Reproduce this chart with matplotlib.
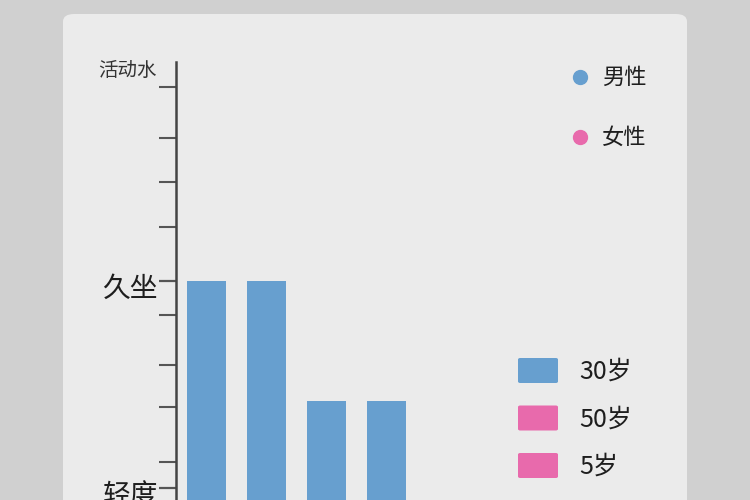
import matplotlib
matplotlib.use("Agg")
import matplotlib.pyplot as plt
from matplotlib.patches import FancyBboxPatch
from matplotlib.lines import Line2D
from matplotlib.transforms import offset_copy

plt.rcParams['font.family'] = ['Noto Sans CJK SC', 'DejaVu Sans']

# ---- data ----
categories = ["组1", "组2", "组3", "组4"]
activity_values = [2.0, 2.0, 1.42, 1.42]
ytick_values = [1.0, 2.0]
ytick_labels = ["轻度", "久坐"]
gender_labels = ["男性", "女性"]
age_labels = ["30岁", "50岁", "5岁"]
title_text = "活动水"

BLUE = "#679fcf"
PINK = "#e86aac"
gender_colors = [BLUE, PINK]
age_colors = [BLUE, PINK, PINK]

W, H = 750, 500
fig = plt.figure(figsize=(7.5, 5), dpi=100, facecolor="#d0d0d0")

# card background
card = FancyBboxPatch((63 / W, -0.1), (687 - 63) / W, (500 - 14) / H + 0.1,
                      boxstyle="round,pad=0,rounding_size=0.015",
                      transform=fig.transFigure, facecolor="#ebebeb",
                      edgecolor="none", zorder=-5)
fig.patches.append(card)

# axes geometry (pixels): value 2 at y=281, 207 px per unit
px_per_unit = 207.0
ref_px, ref_val = 281.0, 2.0
ymin, ymax = 0.0, 3.06
top_px = ref_px - (ymax - ref_val) * px_per_unit
bottom_px = ref_px + (ref_val - ymin) * px_per_unit
left_px, right_px = 176, 686
ax = fig.add_axes([left_px / W, 1 - bottom_px / H,
                   (right_px - left_px) / W, (bottom_px - top_px) / H])
ax.set_zorder(1)
ax.set_facecolor("none")
ax.set_ylim(ymin, ymax)
xpx = 60.0
x0 = -(206.5 - left_px) / xpx
ax.set_xlim(x0, x0 + (right_px - left_px) / xpx)

xs = list(range(len(categories)))
ax.bar(xs, activity_values, width=0.65, color=BLUE, zorder=2)

for s in ["top", "right", "bottom"]:
    ax.spines[s].set_visible(False)
ax.spines["left"].set_color("#444444")
ax.spines["left"].set_linewidth(1.8)
ax.set_xticks(xs)
ax.set_xticklabels(categories)
ax.tick_params(axis="x", length=0, labelbottom=False)

ax.set_yticks(ytick_values)
ax.set_yticklabels([])
minor_px = [87, 138, 182, 227, 315, 365, 407, 462]
ax.set_yticks([ref_val - (p - ref_px) / px_per_unit for p in minor_px], minor=True)
ax.tick_params(axis="y", which="major", length=12, width=1.6, color="#555555")
ax.tick_params(axis="y", which="minor", length=12, width=1.5, color="#555555")

lab_tr = offset_copy(ax.get_yaxis_transform(), fig=fig, x=-18, y=-8, units="dots")
for v, lab in zip(ytick_values, ytick_labels):
    ax.text(0, v, lab, transform=lab_tr, ha="right", va="center",
            fontsize=20, color="#1e1e1e", fontweight="medium", clip_on=False)

# title text
fig.text(98 / W, 1 - 70 / H, title_text, fontsize=14, color="#333333",
         ha="left", va="center", zorder=5, fontweight="medium")

# gender legend (circles)
for i, (lab, col) in enumerate(zip(gender_labels, gender_colors)):
    yc = 1 - (77 + 60 * i) / H
    fig.add_artist(Line2D([580 / W], [yc], marker="o", markersize=10,
                          color=col, linestyle="none", transform=fig.transFigure))
    fig.text(602 / W, yc, lab, fontsize=16, color="#1e1e1e", ha="left",
             va="center", fontweight="medium")

# age legend (rectangles)
for i, (lab, col) in enumerate(zip(age_labels, age_colors)):
    ytop = 358 + 47.5 * i
    fig.patches.append(FancyBboxPatch((518 / W, 1 - (ytop + 25) / H), 40 / W, 25 / H,
                                      boxstyle="round,pad=0,rounding_size=0.003",
                                      transform=fig.transFigure, facecolor=col,
                                      edgecolor="none", zorder=3))
    fig.text(579 / W, 1 - (ytop + 14) / H, lab, fontsize=18, color="#1e1e1e",
             ha="left", va="center", fontweight="medium")

fig.savefig("out.png", dpi=100, facecolor=fig.get_facecolor())
